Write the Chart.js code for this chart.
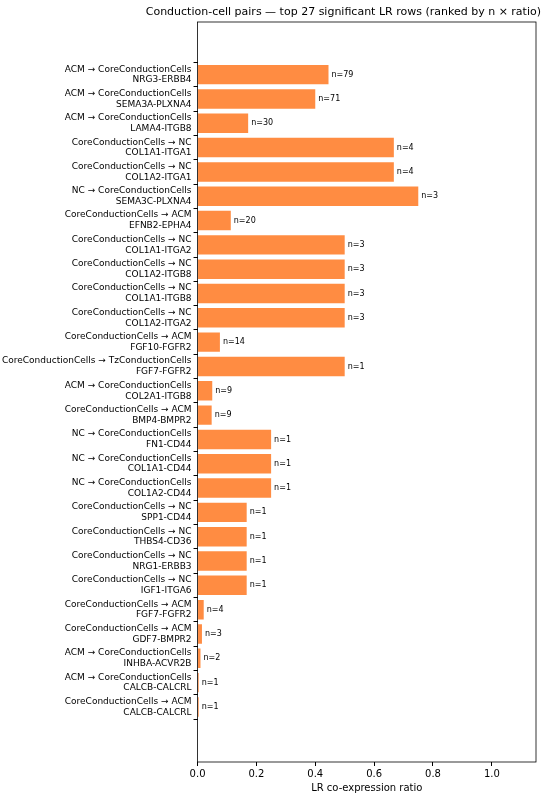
<!DOCTYPE html>
<html>
<head>
<meta charset="utf-8">
<script src="https://cdn.jsdelivr.net/npm/chart.js@4"></script>
<style>
  body { margin: 0; background: #fff; }
  #wrap { width: 548px; height: 800px; }
</style>
</head>
<body>
<div id="wrap"><canvas id="chart" width="548" height="800"></canvas></div>
<script>
// pairs (sender → receiver), ranked by n × ratio
const pairs = [
    'ACM → CoreConductionCells', 'ACM → CoreConductionCells', 'ACM → CoreConductionCells',
    'CoreConductionCells → NC', 'CoreConductionCells → NC', 'NC → CoreConductionCells',
    'CoreConductionCells → ACM', 'CoreConductionCells → NC', 'CoreConductionCells → NC',
    'CoreConductionCells → NC', 'CoreConductionCells → NC', 'CoreConductionCells → ACM',
    'CoreConductionCells → TzConductionCells', 'ACM → CoreConductionCells', 'CoreConductionCells → ACM',
    'NC → CoreConductionCells', 'NC → CoreConductionCells', 'NC → CoreConductionCells',
    'CoreConductionCells → NC', 'CoreConductionCells → NC', 'CoreConductionCells → NC',
    'CoreConductionCells → NC', 'CoreConductionCells → ACM', 'CoreConductionCells → ACM',
    'ACM → CoreConductionCells', 'ACM → CoreConductionCells', 'CoreConductionCells → ACM'
];
const lrNames = [
    'NRG3-ERBB4', 'SEMA3A-PLXNA4', 'LAMA4-ITGB8', 'COL1A1-ITGA1', 'COL1A2-ITGA1', 'SEMA3C-PLXNA4',
    'EFNB2-EPHA4', 'COL1A1-ITGA2', 'COL1A2-ITGB8', 'COL1A1-ITGB8', 'COL1A2-ITGA2', 'FGF10-FGFR2',
    'FGF7-FGFR2', 'COL2A1-ITGB8', 'BMP4-BMPR2', 'FN1-CD44', 'COL1A1-CD44', 'COL1A2-CD44',
    'SPP1-CD44', 'THBS4-CD36', 'NRG1-ERBB3', 'IGF1-ITGA6', 'FGF7-FGFR2', 'GDF7-BMPR2',
    'INHBA-ACVR2B', 'CALCB-CALCRL', 'CALCB-CALCRL'
];
const ratios = [
    0.445, 0.40, 0.172, 0.667, 0.667, 0.75,
    0.113, 0.5, 0.5, 0.5, 0.5, 0.076,
    0.5, 0.05, 0.048, 0.25, 0.25, 0.25,
    0.167, 0.167, 0.167, 0.167, 0.021, 0.015,
    0.01, 0.004, 0.004
];
const counts = [79, 71, 30, 4, 4, 3, 20, 3, 3, 3, 3, 14, 1, 9, 9, 1, 1, 1, 1, 1, 1, 1, 4, 3, 2, 1, 1];
const xTicks = [0, 0.2, 0.4, 0.6, 0.8, 1.0];

const FONT = 'DejaVu Sans';

// "n=.." next to each bar
const countLabels = {
    id: 'countLabels',
    afterDatasetsDraw(chart) {
        const ctx = chart.ctx;
        const meta = chart.getDatasetMeta(0);
        ctx.save();
        ctx.font = '8px "' + FONT + '"';
        ctx.fillStyle = '#000';
        ctx.textBaseline = 'middle';
        meta.data.forEach((bar, i) => {
            ctx.fillText('n=' + counts[i], bar.x + 3, bar.y);
        });
        ctx.restore();
    }
};

// frame around plot + title
const frame = {
    id: 'frame',
    afterDraw(chart) {
        const a = chart.chartArea;
        const ctx = chart.ctx;
        ctx.save();
        ctx.strokeStyle = '#000';
        ctx.lineWidth = 0.8;
        ctx.strokeRect(a.left, a.top, a.right - a.left, a.bottom - a.top);
        ctx.font = '11px "' + FONT + '"';
        ctx.fillStyle = '#000';
        ctx.textAlign = 'right';
        ctx.textBaseline = 'bottom';
        ctx.fillText('Conduction-cell pairs — top 27 significant LR rows (ranked by n × ratio)', 541, a.top - 4);
        ctx.restore();
    }
};

new Chart(document.getElementById('chart'), {
    type: 'bar',
    data: {
        datasets: [{
            data: ratios.map((v, i) => ({ x: v, y: i })),
            backgroundColor: 'rgb(255,140,66)',
            borderWidth: 0,
            barPercentage: 0.8,
            categoryPercentage: 1.0,
        }],
    },
    options: {
        indexAxis: 'y',
        responsive: false,
        animation: false,
        devicePixelRatio: 1,
        layout: { padding: { top: 22, right: 12, bottom: 0, left: 0 } },
        plugins: { legend: { display: false }, tooltip: { enabled: false } },
        scales: {
            x: {
                type: 'linear',
                min: 0,
                max: 1.15,
                afterBuildTicks: axis => { axis.ticks = xTicks.map(v => ({ value: v })); },
                ticks: {
                    color: '#000',
                    font: { family: FONT, size: 10 },
                    callback: v => v.toFixed(1),
                    padding: 2,
                },
                grid: { drawOnChartArea: false, tickLength: 4, tickColor: '#000' },
                border: { display: false },
                title: { display: true, text: 'LR co-expression ratio', color: '#000', font: { family: FONT, size: 10 }, padding: { top: 0, bottom: 6 } },
            },
            y: {
                type: 'linear',
                reverse: true,
                min: -1.6,
                max: 27.7,
                afterBuildTicks: axis => {
                    axis.ticks = pairs.map((p, i) => ({ value: i }));
                    axis.min = -1.6;
                    axis.max = 27.7;
                },
                ticks: {
                    autoSkip: false,
                    color: '#000',
                    font: { family: FONT, size: 9 },
                    padding: 2,
                    callback: v => [pairs[v], lrNames[v]],
                },
                grid: { drawOnChartArea: false, tickLength: 4, tickColor: '#000' },
                border: { display: false },
            },
        },
    },
    plugins: [countLabels, frame],
});
</script>
</body>
</html>
